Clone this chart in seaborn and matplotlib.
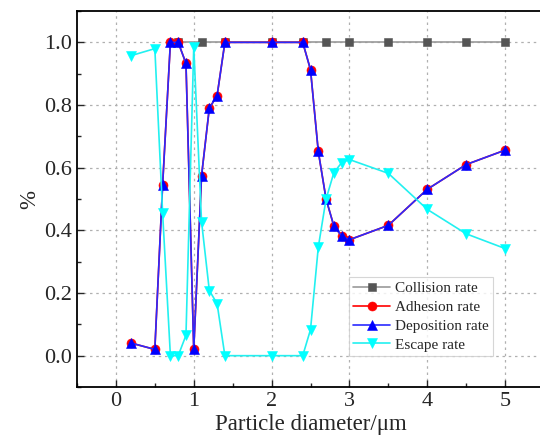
import matplotlib
matplotlib.use("Agg")
import matplotlib.pyplot as plt
import seaborn as sns
import pandas as pd
from matplotlib.ticker import MultipleLocator

collision_x = [0.8, 1.1, 1.4, 2.0, 2.4, 2.7, 3.0, 3.5, 4.0, 4.5, 5.0]
collision_y = [1.0, 1.0, 1.0, 1.0, 1.0, 1.0, 1.0, 1.0, 1.0, 1.0, 1.0]

dep_x = [0.2, 0.5, 0.6, 0.7, 0.8, 0.9, 1.0, 1.1, 1.2, 1.3, 1.4, 2.0, 2.4,
         2.5, 2.6, 2.7, 2.8, 2.9, 3.0, 3.5, 4.0, 4.5, 5.0]
adhesion_y = [0.04, 0.02, 0.545, 1.0, 1.0, 0.933, 0.02, 0.574, 0.79, 0.83, 1.0, 1.0, 1.0,
              0.913, 0.652, 0.50, 0.414, 0.382, 0.37, 0.416, 0.531, 0.61, 0.656]
deposition_y = [0.04, 0.02, 0.545, 1.0, 1.0, 0.933, 0.02, 0.574, 0.79, 0.83, 1.0, 1.0, 1.0,
                0.913, 0.652, 0.50, 0.414, 0.382, 0.37, 0.416, 0.531, 0.61, 0.656]
escape_y = [0.958, 0.98, 0.455, 0.0, 0.0, 0.065, 0.985, 0.428, 0.208, 0.166, 0.0, 0.0, 0.0,
            0.083, 0.346, 0.50, 0.584, 0.616, 0.626, 0.582, 0.467, 0.389, 0.342]

xticks = [0, 1, 2, 3, 4, 5]
yticks = [0.0, 0.2, 0.4, 0.6, 0.8, 1.0]

sns.set_style("ticks")
plt.rcParams['font.family'] = ['Liberation Serif', 'DejaVu Serif']
plt.rcParams['mathtext.fontset'] = 'stix'

fig = plt.figure(figsize=(5.4, 4.41), dpi=100)
ax = fig.add_axes([0.1426, 0.1224, 0.8648, 0.8526])

series = [
    ("Collision rate", collision_x, collision_y, 's', '#999999', '#555555', 5.5),
    ("Adhesion rate", dep_x, adhesion_y, 'o', '#ff0000', '#ff0000', 6.5),
    ("Deposition rate", dep_x, deposition_y, '^', '#2a2aff', '#0000ff', 7.5),
    ("Escape rate", dep_x, escape_y, 'v', '#22f0f0', '#00ffff', 7.5),
]
for i, (name, xs, ys, mk, lc, mc, ms) in enumerate(series):
    df = pd.DataFrame({"x": xs, "y": ys})
    sns.lineplot(data=df, x="x", y="y", ax=ax, color=lc, linewidth=1.2,
                 marker=mk, markersize=ms, markerfacecolor=mc, markeredgecolor=mc,
                 markeredgewidth=0.4, label=name, zorder=3 + i, sort=False)

ax.set_xlim(-0.5, 5.5)
ax.set_ylim(-0.1, 1.1)
ax.set_xticks(xticks)
ax.set_yticks(yticks)
ax.set_yticklabels([f"{v:.1f}" for v in yticks])
ax.xaxis.set_minor_locator(MultipleLocator(0.5))
ax.yaxis.set_minor_locator(MultipleLocator(0.1))
ax.tick_params(which='major', direction='in', length=5, width=1, labelsize=16,
               top=False, right=False)
ax.tick_params(which='minor', direction='in', length=3, width=1, top=False, right=False)
ax.grid(True, which='major', linestyle=(0, (2, 3)), color='#b0b0b0', linewidth=0.9, zorder=0)
ax.set_axisbelow(True)
for s in ax.spines.values():
    s.set_linewidth(1.3)
    s.set_color('black')
ax.spines['right'].set_visible(False)

ax.set_xlabel("Particle diameter/\u03bcm", fontsize=16.5, labelpad=2)
ax.set_ylabel("%", fontsize=16.5, labelpad=3)

leg = ax.legend(loc='lower left', bbox_to_anchor=(0.582, 0.082), borderaxespad=0,
                fontsize=11, frameon=True, fancybox=False, handlelength=2.4,
                labelspacing=0.33, borderpad=0.3, handletextpad=0.3)
leg.get_frame().set_edgecolor('#cccccc')
leg.get_frame().set_linewidth(0.8)

fig.savefig("out.png", dpi=100)
